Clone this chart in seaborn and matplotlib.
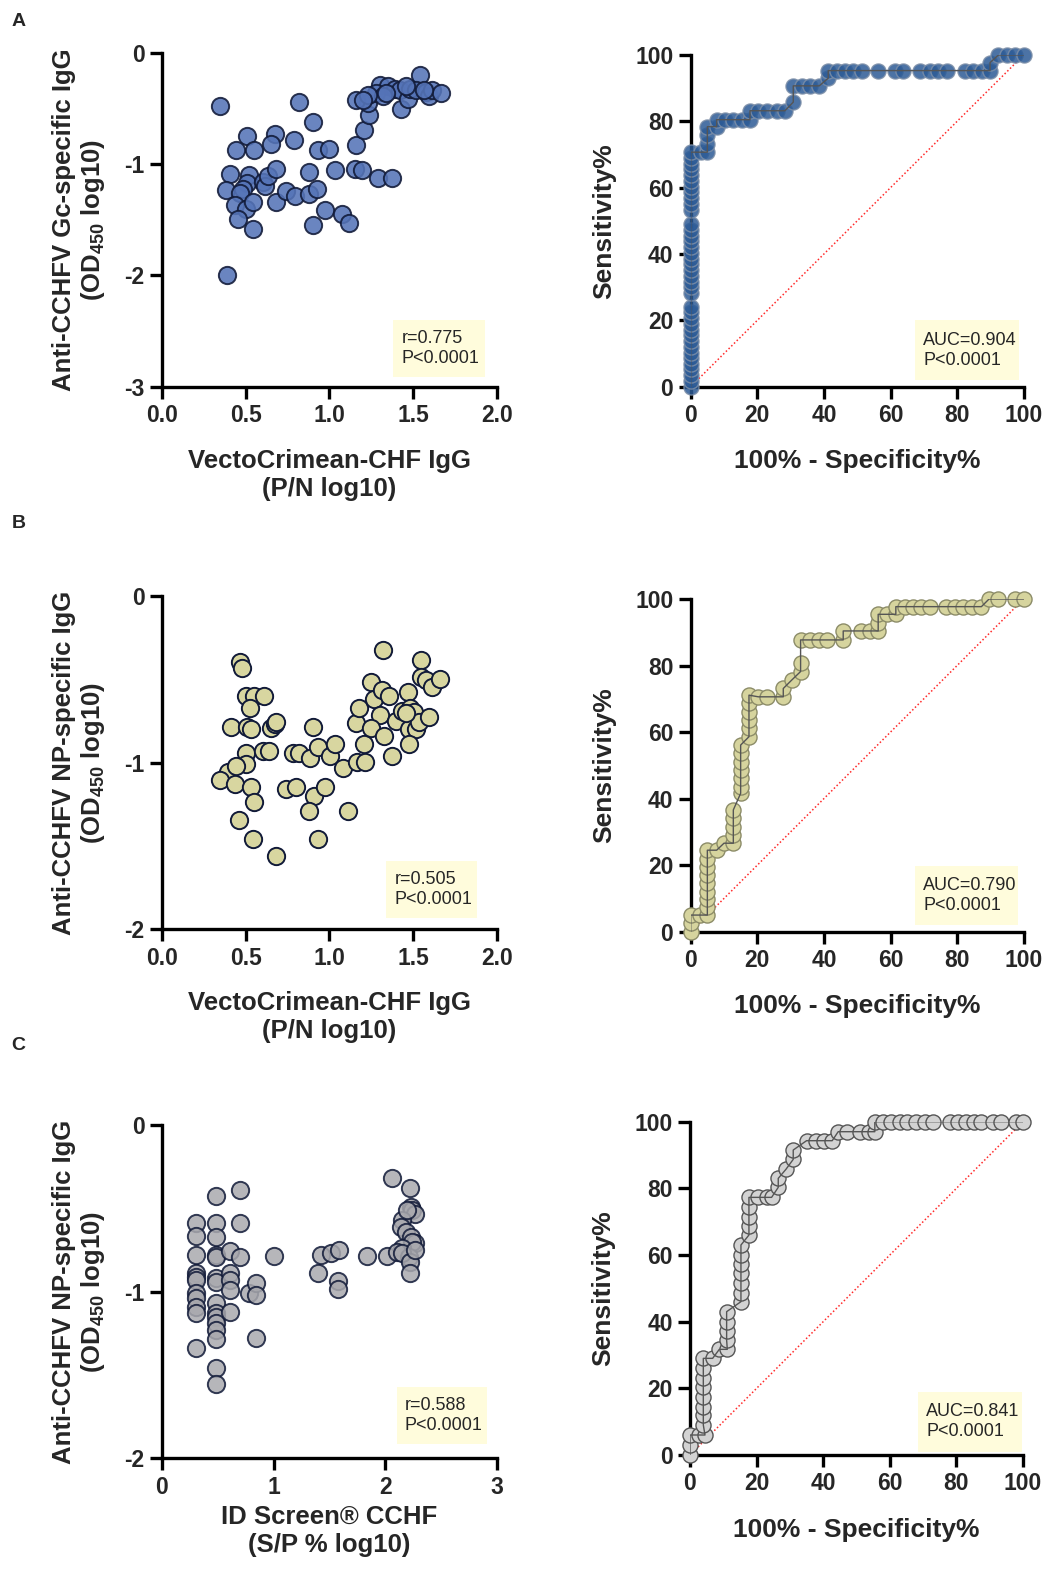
import matplotlib
matplotlib.use("Agg")
import matplotlib.pyplot as plt
import seaborn as sns
from matplotlib.patches import Rectangle

# ---------------- data ----------------
# A: VectoCrimean-CHF IgG (P/N log10) vs anti-Gc IgG (OD450 log10)
a_x = [0.345, 0.817, 0.90, 0.508, 0.673, 0.44, 0.55, 0.65, 0.79, 0.93, 1.0, 1.159, 1.21, 1.238, 1.23, 1.16,
       1.30, 1.35, 1.39, 1.28, 1.32, 1.42, 1.43, 1.47, 1.48, 1.54, 1.52, 1.575, 1.595, 1.615, 1.665, 1.23,
       1.2, 1.34, 1.46, 1.565,
       0.405, 0.38, 0.52, 0.51, 0.484, 0.464, 0.434, 0.50, 0.454, 0.544, 0.544, 0.603, 0.613, 0.633, 0.679,
       0.679, 0.738, 0.792, 0.877, 0.881, 0.927, 0.90, 0.976, 1.036, 1.075, 1.115, 1.155, 1.198, 1.288,
       1.373, 0.389]
a_y = [-0.474, -0.444, -0.62, -0.745, -0.724, -0.868, -0.868, -0.82, -0.784, -0.868, -0.86, -0.823, -0.69,
       -0.56, -0.45, -0.42,
       -0.29, -0.30, -0.32, -0.36, -0.39, -0.33, -0.50, -0.41, -0.32, -0.20, -0.33, -0.35, -0.39, -0.33,
       -0.36, -0.38, -0.42, -0.36, -0.30, -0.33,
       -1.084, -1.234, -1.10, -1.17, -1.22, -1.26, -1.37, -1.40, -1.49, -1.34, -1.58, -1.16, -1.20, -1.11,
       -1.04, -1.34, -1.24, -1.29, -1.27, -1.07, -1.22, -1.55, -1.41, -1.05, -1.45, -1.53, -1.04, -1.05,
       -1.12, -1.12, -2.0]

# B: VectoCrimean-CHF IgG vs anti-NP IgG
b_x = [0.464, 0.48, 0.50, 0.55, 0.61, 0.524, 0.41, 0.51, 0.53, 0.653,
       0.673, 0.683, 0.504, 0.504, 0.603, 0.639, 0.395, 0.44, 0.349, 0.435,
       0.534, 0.548, 0.46, 0.544, 0.683, 0.742, 0.798, 0.907, 0.976, 0.881,
       0.935, 1.113, 0.782, 0.821, 0.885, 0.905, 0.93, 1.006, 1.036, 1.083,
       1.163, 1.214, 1.208, 1.159, 1.175, 1.248, 1.268, 1.317, 1.357, 1.304,
       1.248, 1.327, 1.377, 1.397, 1.323, 1.472, 1.437, 1.48, 1.506, 1.476,
       1.516, 1.476, 1.536, 1.595, 1.546, 1.546, 1.575, 1.615, 1.66, 1.456]
b_y = [-0.394, -0.43, -0.60, -0.60, -0.60, -0.674, -0.784, -0.784, -0.80, -0.794,
       -0.77, -0.754, -0.944, -1.01, -0.93, -0.928, -1.054, -1.02, -1.104, -1.128,
       -1.144, -1.234, -1.344, -1.46, -1.56, -1.16, -1.144, -1.2, -1.148, -1.29,
       -1.46, -1.29, -0.94, -0.944, -0.974, -0.784, -0.904, -0.96, -0.888, -1.03,
       -0.994, -0.994, -0.89, -0.764, -0.674, -0.514, -0.618, -0.564, -0.60, -0.714,
       -0.794, -0.84, -0.958, -0.748, -0.324, -0.574, -0.69, -0.674, -0.694, -0.80,
       -0.80, -0.89, -0.754, -0.724, -0.384, -0.484, -0.504, -0.548, -0.50, -0.704]

# C: ID Screen CCHF (S/P % log10) vs anti-NP IgG
c_x = [0.304, 0.304, 0.304, 0.304, 0.304, 0.304, 0.304, 0.304, 0.304, 0.304, 0.304,
       0.482, 0.482, 0.482, 0.482, 0.482, 0.482, 0.482, 0.482, 0.482, 0.482, 0.482, 0.482, 0.482, 0.482, 0.482,
       0.607, 0.607, 0.607, 0.607, 0.607, 0.696, 0.696, 0.696,
       0.78, 0.845, 0.845, 0.845, 1.0, 1.40, 1.426, 1.515, 1.589, 1.574, 1.574, 1.833, 2.02, 2.06, 2.22,
       2.23, 2.244, 2.268, 2.155, 2.14, 2.185, 2.23, 2.27, 2.244, 2.155, 2.11, 2.214, 2.155, 2.22, 2.22,
       2.2, 2.27]
c_y = [-0.59, -0.666, -0.78, -0.886, -0.91, -0.93, -1.01, -1.04, -1.09, -1.13, -1.34,
       -0.424, -0.59, -0.67, -0.78, -0.79, -0.92, -0.94, -1.07, -1.126, -1.15, -1.19, -1.23, -1.286, -1.46, -1.554,
       -0.754, -0.89, -0.93, -0.99, -1.12, -0.39, -0.59, -0.794,
       -1.01, -0.95, -1.02, -1.28, -0.784, -0.886, -0.78, -0.766, -0.75, -0.934, -0.986, -0.784, -0.784, -0.32, -0.376,
       -0.49, -0.51, -0.534, -0.57, -0.61, -0.64, -0.67, -0.71, -0.70, -0.74, -0.76, -0.79, -0.77, -0.82, -0.886,
       -0.51, -0.75]

# ROC curves: 100% - specificity (x) and sensitivity (y)
roc_a_x = [0, 0, 0, 0, 0, 0, 0, 0, 0, 0, 0, 0, 0, 0, 0,
           0, 0, 0, 0, 0, 0, 0, 0, 0, 0, 0, 0, 0,
           0, 0, 0, 0, 0, 0, 0, 0, 0, 0, 0,
           3.0, 5.0, 5.0, 5.0, 5.0, 7.8, 7.8, 10.3, 12.8, 15.3, 17.8, 17.8, 20.3, 22.8, 25.8, 28.3, 30.8,
           30.8, 33.3, 35.8, 38.6, 41.3, 41.3, 43.8, 46.3, 48.8, 51.3, 56.3, 61.3, 63.8, 68.8, 71.8, 74.4,
           77.1, 82.4, 84.9, 87.4, 89.9, 89.9, 92.4, 94.9, 97.4, 100]
roc_a_y = [0, 1.7, 3.4, 5.2, 6.9, 8.6, 10.3, 12.1, 13.8, 15.5, 17.2, 19.0, 20.7, 22.4, 24.1,
           28.3, 30.0, 31.7, 33.4, 35.1, 36.9, 38.6, 40.3, 42.0, 43.8, 45.5, 47.2, 48.9,
           53.4, 55.2, 56.9, 58.6, 60.3, 62.1, 63.8, 65.5, 67.2, 69.0, 70.7,
           70.7, 70.7, 73.3, 75.9, 78.4, 78.4, 80.5, 80.5, 80.5, 80.5, 80.5, 83.2, 83.2, 83.2, 83.2, 83.2, 85.8,
           90.7, 90.7, 90.7, 90.7, 93.0, 95.3, 95.3, 95.3, 95.3, 95.3, 95.3, 95.3, 95.3, 95.3, 95.3, 95.3,
           95.3, 95.3, 95.3, 95.3, 95.3, 97.7, 100, 100, 100, 100]

roc_b_x = [0, 0, 0, 2.8, 5, 5, 5, 5, 5, 5, 5, 5, 5, 7.8, 10, 12.8, 12.8, 12.8, 12.8, 12.8,
           15, 15, 15, 15, 15, 15, 15, 17.5, 17.5, 17.5, 17.5, 17.5, 17.5, 20.3, 23, 27.8, 27.8, 30.3,
           33, 33, 33, 35.8, 38.5, 41, 45.8, 45.8, 51, 53.8, 56.3, 56.3, 56.3, 58.8, 61.6, 61.6, 64.3,
           66.8, 69.3, 71.8, 76.8, 79.3, 81.8, 84.6, 87.3, 89.6, 92.3, 97.3, 100]
roc_b_y = [0, 2.5, 5, 5, 5, 7.5, 9.7, 12, 14.5, 17, 19.5, 22, 24.5, 24.5, 26.6, 26.6, 29.1, 31.6, 34.1, 36.6,
           41.6, 43.6, 46.1, 48.6, 51.1, 53.6, 56.1, 58.6, 61.1, 63.6, 66.1, 68.6, 71.1, 70.6, 70.6, 70.6, 73.1,
           75.6, 78.2, 80.7, 87.7, 87.7, 87.7, 87.7, 87.7, 90.4, 90.4, 90.4, 90.4, 92.9, 95.4, 95.4, 95.4, 97.7,
           97.7, 97.7, 97.7, 97.7, 97.7, 97.7, 97.7, 97.7, 97.7, 100, 100, 100, 100]

roc_c_x = [0, 0, 0, 2.8, 4.5, 4, 4, 4, 4, 4, 4, 4, 4, 6.8, 8.8, 11.2, 11, 11, 11, 11,
           15.3, 15.3, 15.3, 15.3, 15.3, 15.3, 15.3, 17.7, 17.7, 17.7, 17.7, 17.7, 20.5, 23, 24.5,
           26.5, 26.5, 28.8, 31, 31, 35, 37.8, 40.2, 42.7, 44.5, 47, 51.2, 53.7, 55.5, 55.5, 58, 60.5,
           63, 65.2, 67.8, 70.5, 73, 78, 80.5, 83, 85.2, 87.5, 91, 93.5, 98, 100]
roc_c_y = [0, 3, 6, 6, 6, 9, 12, 14.5, 17.5, 20.5, 23, 26, 29, 29, 31.7, 31.7, 34.5, 37.2, 40, 43,
           46, 48.7, 51.7, 54.5, 57.3, 60, 63, 66, 68.7, 71.5, 74.5, 77.3, 77.3, 77.3, 77.3,
           80.3, 83, 85.7, 88.7, 91.5, 94.3, 94.3, 94.3, 94.3, 97, 97, 97, 97, 97, 100, 100, 100,
           100, 100, 100, 100, 100, 100, 100, 100, 100, 100, 100, 100, 100, 100]

chance = [0, 100]

# ---------------- style ----------------
sns.set_style("ticks")
plt.rcParams['font.family'] = ['Liberation Sans', 'DejaVu Sans']
plt.rcParams['font.weight'] = 'bold'
plt.rcParams['mathtext.fontset'] = 'custom'
plt.rcParams['mathtext.rm'] = 'Liberation Sans:bold'
plt.rcParams['mathtext.bf'] = 'Liberation Sans:bold'
plt.rcParams['axes.unicode_minus'] = False

LABEL_FS = 18.5
TICK_FS = 16.5
EDGE = '#111a38'
BOX = '#fffcdc'

fig = plt.figure(figsize=(10.51, 15.73), dpi=100)

W = 1051.0
H = 1573.0


def add_axes(left_px, top_px, w_px, h_px):
    return fig.add_axes([left_px / W, 1 - (top_px + h_px) / H, w_px / W, h_px / H])


def style_axes(ax):
    sns.despine(ax=ax)
    for s in ['left', 'bottom']:
        ax.spines[s].set_linewidth(2.4)
        ax.spines[s].set_color('black')
    ax.tick_params(axis='both', length=8.5, width=2.4, labelsize=TICK_FS, pad=4, color='black')
    for lab in ax.get_xticklabels() + ax.get_yticklabels():
        lab.set_fontweight('bold')


def stat_box(ax, x0, y0, x1, y1, text):
    ax.add_patch(Rectangle((x0, y0), x1 - x0, y1 - y0, transform=ax.transAxes,
                           facecolor=BOX, edgecolor='none', zorder=1, clip_on=False))
    ax.text(x0 + 0.025, (y0 + y1) / 2, text, transform=ax.transAxes, ha='left', va='center',
            fontsize=13, fontweight='normal', linespacing=1.25, zorder=2)


def scatter_panel(ax, x, y, fill, alpha, xlim, xticks, xticklabels, ylim, yticks, xlabel, ylabel,
                  stat, box, xlab_y=-0.186):
    sns.scatterplot(x=x, y=y, ax=ax, s=155, color=fill, edgecolor=EDGE, linewidth=1.4,
                    alpha=alpha, clip_on=False, zorder=3, legend=False)
    ax.set_xlim(*xlim)
    ax.set_ylim(*ylim)
    ax.set_xticks(xticks)
    ax.set_xticklabels(xticklabels)
    ax.set_yticks(yticks)
    ax.set_yticklabels([str(t) for t in yticks])
    style_axes(ax)
    ax.set_xlabel(xlabel, fontsize=LABEL_FS, fontweight='bold', linespacing=1.2)
    ax.set_ylabel(ylabel, fontsize=LABEL_FS, fontweight='bold', linespacing=1.15)
    ax.xaxis.set_label_coords(0.5, xlab_y)
    ax.yaxis.set_label_coords(-0.164, 0.5)
    stat_box(ax, *box, stat)


def roc_panel(ax, x, y, fill, edge, alpha, stat, box):
    sns.lineplot(x=chance, y=chance, ax=ax, color='#ff2a2a', linewidth=1.1, linestyle=(0, (1, 1.5)),
                 zorder=2)
    sns.lineplot(x=x, y=y, ax=ax, estimator=None, sort=False, color='#555555', linewidth=1.0, zorder=4)
    sns.scatterplot(x=x, y=y, ax=ax, s=118, color=fill, edgecolor=edge, linewidth=1.0,
                    alpha=alpha, clip_on=False, zorder=3, legend=False)
    ax.set_xlim(0, 100)
    ax.set_ylim(0, 100)
    ax.set_xticks([0, 20, 40, 60, 80, 100])
    ax.set_yticks([0, 20, 40, 60, 80, 100])
    style_axes(ax)
    ax.set_xlabel('100% - Specificity%', fontsize=LABEL_FS + 0.5, fontweight='bold')
    ax.set_ylabel('Sensitivity%', fontsize=LABEL_FS + 0.5, fontweight='bold')
    ax.xaxis.set_label_coords(0.5, -0.188)
    ax.yaxis.set_label_coords(-0.225, 0.5)
    stat_box(ax, *box, stat)


od_label = 'Anti-CCHFV {}-specific IgG\n(OD$_{{450}}$ log10)'
vc_label = 'VectoCrimean-CHF IgG\n(P/N log10)'

# Row A
ax = add_axes(162, 53, 334.7, 333.7)
scatter_panel(ax, a_x, a_y, '#5574b8', 0.88, (0, 2), [0, 0.5, 1.0, 1.5, 2.0],
              ['0.0', '0.5', '1.0', '1.5', '2.0'], (-3, 0), [0, -1, -2, -3],
              vc_label, od_label.format('Gc'), 'r=0.775\nP<0.0001', (0.691, 0.03, 0.966, 0.20))
ax = add_axes(690.7, 55, 333, 331.7)
roc_panel(ax, roc_a_x, roc_a_y, '#2c5b96', '#7d8fa8', 0.85, 'AUC=0.904\nP<0.0001',
          (0.674, 0.02, 0.987, 0.20))

# Row B
ax = add_axes(162, 596, 334.7, 333.3)
scatter_panel(ax, b_x, b_y, '#d8d6a0', 1.0, (0, 2), [0, 0.5, 1.0, 1.5, 2.0],
              ['0.0', '0.5', '1.0', '1.5', '2.0'], (-2, 0), [0, -1, -2],
              vc_label, od_label.format('NP'), 'r=0.505\nP<0.0001', (0.669, 0.033, 0.94, 0.205))
ax = add_axes(690.7, 599, 333, 332.7)
roc_panel(ax, roc_b_x, roc_b_y, '#d6d49e', '#8c8c68', 1.0, 'AUC=0.790\nP<0.0001',
          (0.674, 0.02, 0.984, 0.197))

# Row C
ax = add_axes(162, 1125, 334.7, 333.3)
scatter_panel(ax, c_x, c_y, '#a9a9ae', 0.85, (0, 3), [0, 1, 2, 3], ['0', '1', '2', '3'],
              (-2, 0), [0, -1, -2], 'ID Screen® CCHF\n(S/P % log10)', od_label.format('NP'),
              'r=0.588\nP<0.0001', (0.701, 0.042, 0.972, 0.213), xlab_y=-0.14)
ax = add_axes(690.0, 1121.7, 333, 333.3)
roc_panel(ax, roc_c_x, roc_c_y, '#d3d3d3', '#555555', 1.0, 'AUC=0.841\nP<0.0001',
          (0.685, 0.01, 0.998, 0.19))

# panel letters
for letter, ypx in [('A', 21.7), ('B', 523.6), ('C', 1046.0)]:
    fig.text(11.5 / W, 1 - ypx / H, letter, fontsize=14, fontweight='bold', va='center', ha='left')

fig.savefig('out.png', dpi=100)
